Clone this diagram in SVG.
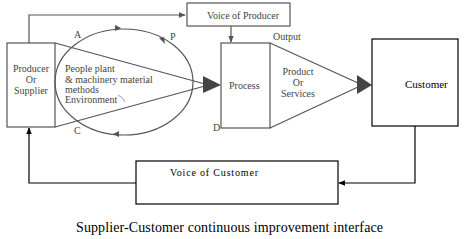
<svg xmlns="http://www.w3.org/2000/svg" width="467" height="239" viewBox="0 0 467 239">
<style>
.g{fill:none;stroke:#555;stroke-width:1.2}
.k{fill:none;stroke:#000;stroke-width:1.2}
.t{font-family:"Liberation Serif",serif;font-size:10px;fill:#444}
.tk{font-family:"Liberation Serif",serif;fill:#000}
</style>
<defs>
<marker id="ag" viewBox="0 0 10 10" refX="9" refY="5" markerWidth="6" markerHeight="6" orient="auto"><path d="M0,1 L10,5 L0,9 Z" fill="#555"/></marker>
<marker id="ak" viewBox="0 0 10 10" refX="9" refY="5" markerWidth="6" markerHeight="6" orient="auto"><path d="M0,1 L10,5 L0,9 Z" fill="#000"/></marker>
</defs>
<rect width="467" height="239" fill="#fff"/>
<g id="connectors">
<polyline class="g" points="29,43 29,15 185,15" marker-end="url(#ag)"/>
<line class="g" x1="231" y1="26" x2="231" y2="42" marker-end="url(#ag)"/>
<ellipse class="g" cx="124" cy="82" rx="69" ry="53"/>
<path d="M115,25 l6,3 l-6,3 z" fill="#555"/>
<path d="M159,38 l6,6 l-1,-7 z" fill="#555"/>
<path d="M119,131 l-6,3 l6,3 z" fill="#555"/>
<line class="g" x1="55" y1="43" x2="205" y2="84"/>
<line class="g" x1="55" y1="127" x2="205" y2="86"/>
<path d="M203,76 L221,85 L203,93 Z" fill="#444"/>
<line class="g" x1="270" y1="43" x2="358" y2="83"/>
<line class="g" x1="270" y1="128" x2="358" y2="87"/>
<path d="M357,75 L372,85 L357,94 Z" fill="#444"/>
<polyline class="k" points="415,126 415,183 339,183" marker-end="url(#ak)"/>
<polyline class="k" points="136,183 29,183 29,128" marker-end="url(#ak)"/>
<path d="M118,95 q5,2 7,7" fill="none" stroke="#888" stroke-width="0.8"/>
</g>
<g id="producer">
<rect class="g" x="7" y="43" width="48" height="84"/>
<text class="t" text-anchor="middle"><tspan x="31" y="72">Producer</tspan><tspan x="31" y="83">Or</tspan><tspan x="31" y="94">Supplier</tspan></text>
</g>
<g id="inputs">
<text class="t"><tspan x="65" y="72">People plant</tspan><tspan x="65" y="83">&amp; machinery material</tspan><tspan x="65" y="93">methods</tspan><tspan x="65" y="103">Environment</tspan></text>
<text class="t" x="74" y="38">A</text>
<text class="t" x="170" y="40">P</text>
<text class="t" x="74" y="134">C</text>
</g>
<g id="voice-producer">
<rect class="g" x="187" y="3" width="103" height="23"/>
<text class="t" x="243" y="19" text-anchor="middle">Voice of Producer</text>
</g>
<g id="process">
<rect class="g" x="221" y="43" width="49" height="85"/>
<text class="t" x="229" y="89">Process</text>
<text class="t" x="213" y="131">D</text>
<text class="t" x="273" y="40">Output</text>
</g>
<g id="product">
<text class="t" text-anchor="middle"><tspan x="298" y="75">Product</tspan><tspan x="298" y="86">Or</tspan><tspan x="298" y="97">Services</tspan></text>
</g>
<g id="customer">
<rect class="k" x="372" y="39" width="86" height="87"/>
<text class="tk" x="405" y="88" font-size="11">Customer</text>
</g>
<g id="voice-customer">
<rect class="k" x="136" y="161" width="202" height="43"/>
<text class="tk" x="170" y="176" font-size="10" textLength="88" lengthAdjust="spacing">Voice of Customer</text>
</g>
<text class="tk" x="76" y="232" font-size="14" textLength="307" lengthAdjust="spacing">Supplier-Customer continuous improvement interface</text>
</svg>
